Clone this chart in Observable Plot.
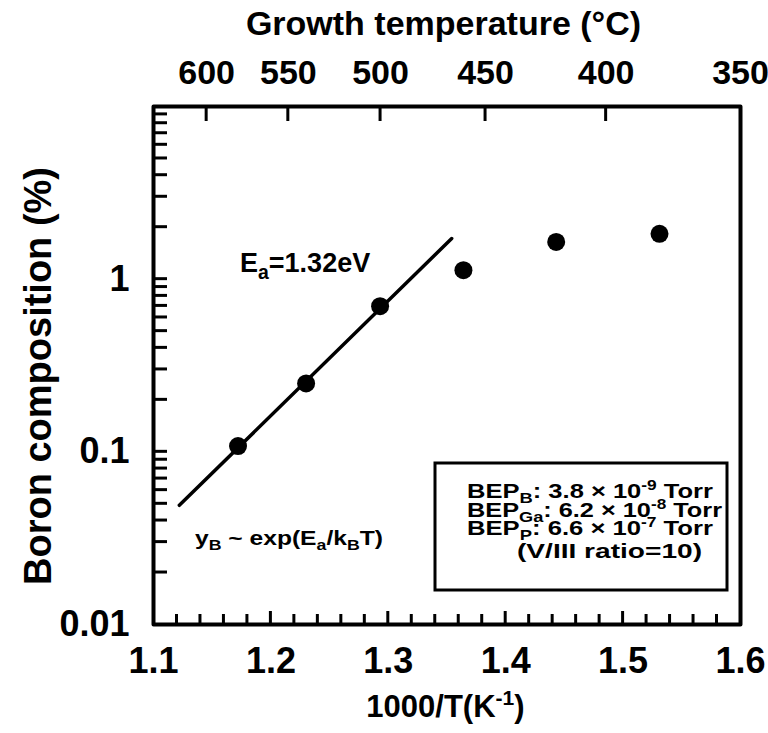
<!DOCTYPE html>
<html>
<head>
<meta charset="utf-8">
<script src="https://cdn.jsdelivr.net/npm/d3@7"></script>
<script src="https://cdn.jsdelivr.net/npm/@observablehq/plot@0.6"></script>
<style>
  html, body { margin: 0; padding: 0; background: #fff; }
  #chart svg { display: block; }
</style>
</head>
<body>
<div id="chart"></div>
<script>
// ---- data ----
const invT   = [1.172, 1.230, 1.293, 1.364, 1.443, 1.531];   // 1000/T (K^-1)
const boron  = [0.108, 0.249, 0.698, 1.127, 1.644, 1.830];   // boron composition (%)
const fitX   = [1.122, 1.354];                               // Arrhenius fit line ends
const fitY   = [0.049, 1.72];
const xTicks = [1.1, 1.2, 1.3, 1.4, 1.5, 1.6];
const yTicks = [0.01, 0.1, 1];
const topTemps = [600, 550, 500, 450, 400, 350];             // growth temperature (°C)
const topTitle = "Growth temperature (°C)";
const xTitle = "1000/T(K^{-1})";
const yTitle = "Boron composition (%)";
const eaLabel = "E_{a}=1.32eV";
const lawLabel = "y_{B} ~ exp(E_{a}/k_{B}T)";
const legendLines = [
  "BEP_{B}: 3.8 × 10^{-9} Torr",
  "BEP_{Ga}: 6.2 × 10^{-8} Torr",
  "BEP_{P}: 6.6 × 10^{-7} Torr",
  "(V/III ratio=10)"
];

const points = invT.map((x, i) => ({x, y: boron[i]}));
const fit = fitX.map((x, i) => ({x, y: fitY[i]}));
const toInv = T => 1000 / (T + 273.15);
const FONT = "'Liberation Sans', Arial, Helvetica, sans-serif";

function rich(textSel, str, fs) {
  const parts = str.split(/(_\{[^}]*\}|\^\{[^}]*\})/g).filter(s => s.length);
  let cur = 0;
  for (const p of parts) {
    let t = p, off = 0, size = fs;
    if (p.startsWith("_{")) { t = p.slice(2, -1); off = 0.26 * fs; size = 0.72 * fs; }
    else if (p.startsWith("^{")) { t = p.slice(2, -1); off = -0.38 * fs; size = 0.68 * fs; }
    textSel.append("tspan").attr("dy", off - cur).attr("font-size", size).text(t);
    cur = off;
  }
  return textSel;
}

function ticksMark(index, scales, values, dims) {
  const {x, y} = scales;
  const L = dims.marginLeft, R = dims.width - dims.marginRight;
  const T = dims.marginTop, B = dims.height - dims.marginBottom;
  const g = d3.create("svg:g").attr("stroke", "black").attr("stroke-width", 3).attr("fill", "none");
  for (const v of d3.ticks(1.1, 1.6, 25)) {
    const major = Math.abs(v * 10 - Math.round(v * 10)) < 1e-6;
    if (v <= 1.1 + 1e-9 || v >= 1.6 - 1e-9) continue;
    const px = x(v);
    g.append("line").attr("x1", px).attr("x2", px).attr("y1", B).attr("y2", B - (major ? 13 : 10));
  }
  for (const v of d3.scaleLog().domain([0.01, 10]).ticks()) {
    if (v <= 0.01 + 1e-12 || v >= 10 - 1e-9) continue;
    const py = y(v);
    g.append("line").attr("x1", L).attr("x2", L + 14).attr("y1", py).attr("y2", py);
  }
  for (const t of topTemps) {
    const v = toInv(t);
    if (v > 1.6) continue;
    const px = x(v);
    g.append("line").attr("x1", px).attr("x2", px).attr("y1", T).attr("y2", T + 15);
  }
  return g.node();
}

function annotations(index, scales, values, dims) {
  const L = dims.marginLeft, R = dims.width - dims.marginRight;
  const T = dims.marginTop, B = dims.height - dims.marginBottom;
  const g = d3.create("svg:g").attr("font-family", FONT).attr("font-weight", "bold")
    .attr("fill", "black").attr("text-anchor", "start");
  // titles
  g.append("text").attr("x", (L + R) / 2 - 3).attr("y", 34.5).attr("text-anchor", "middle")
    .attr("font-size", 34).text(topTitle);
  rich(g.append("text").attr("x", (L + R) / 2 - 1).attr("y", 717).attr("text-anchor", "middle")
    .attr("font-size", 31), xTitle, 31);
  g.append("text").attr("transform", `translate(51,${(T + B) / 2 + 11}) rotate(-90)`).attr("text-anchor", "middle")
    .attr("font-size", 38).text(yTitle);
  // fit annotations
  rich(g.append("text").attr("x", L + 87).attr("y", T + 165.5).attr("font-size", 27), eaLabel, 27);
  rich(g.append("text").attr("x", L + 42).attr("y", T + 439).attr("font-size", 20)
    .attr("textLength", 188).attr("lengthAdjust", "spacingAndGlyphs"), lawLabel, 20);
  // legend box
  g.append("rect").attr("x", L + 282).attr("y", T + 357).attr("width", 292).attr("height", 127)
    .attr("fill", "white").attr("stroke", "black").attr("stroke-width", 3);
  const base = [392, 410.5, 429, 452];
  const lens = [246, 255, 246, 185];
  legendLines.forEach((s, i) => {
    const t = g.append("text").attr("x", L + (i === 3 ? 364 : 314)).attr("y", T + base[i])
      .attr("font-size", 21).attr("textLength", lens[i]).attr("lengthAdjust", "spacingAndGlyphs");
    rich(t, s, 21);
  });
  return g.node();
}

const chart = Plot.plot({
  width: 768,
  height: 733,
  marginLeft: 153,
  marginRight: 28,
  marginTop: 106,
  marginBottom: 109,
  x: {domain: [1.1, 1.6]},
  y: {type: "log", domain: [0.01, 10]},
  style: {fontFamily: FONT, fontWeight: "bold", color: "black", background: "white", overflow: "visible"},
  marks: [
    Plot.axisX({ticks: xTicks, tickSize: 0, tickPadding: 23, fontSize: 36, fontWeight: "bold",
      tickFormat: d => d.toFixed(1), label: null}),
    Plot.axisY({ticks: yTicks, tickSize: 0, tickPadding: 24, fontSize: 36, fontWeight: "bold",
      tickFormat: d => String(d), label: null}),
    Plot.text(topTemps, {x: t => Math.min(toInv(t), 1.6), frameAnchor: "top", dy: -23, lineAnchor: "bottom",
      text: t => String(t), fontSize: 34, fontWeight: "bold", fill: "black"}),
    Plot.line(fit, {x: "x", y: "y", stroke: "black", strokeWidth: 3.5}),
    Plot.dot(points, {x: "x", y: "y", r: 9, fill: "black", stroke: "none"}),
    ticksMark,
    annotations,
    Plot.frame({stroke: "black", strokeWidth: 4, strokeLinejoin: "round"})
  ]
});
document.getElementById("chart").append(chart);
</script>
</body>
</html>
